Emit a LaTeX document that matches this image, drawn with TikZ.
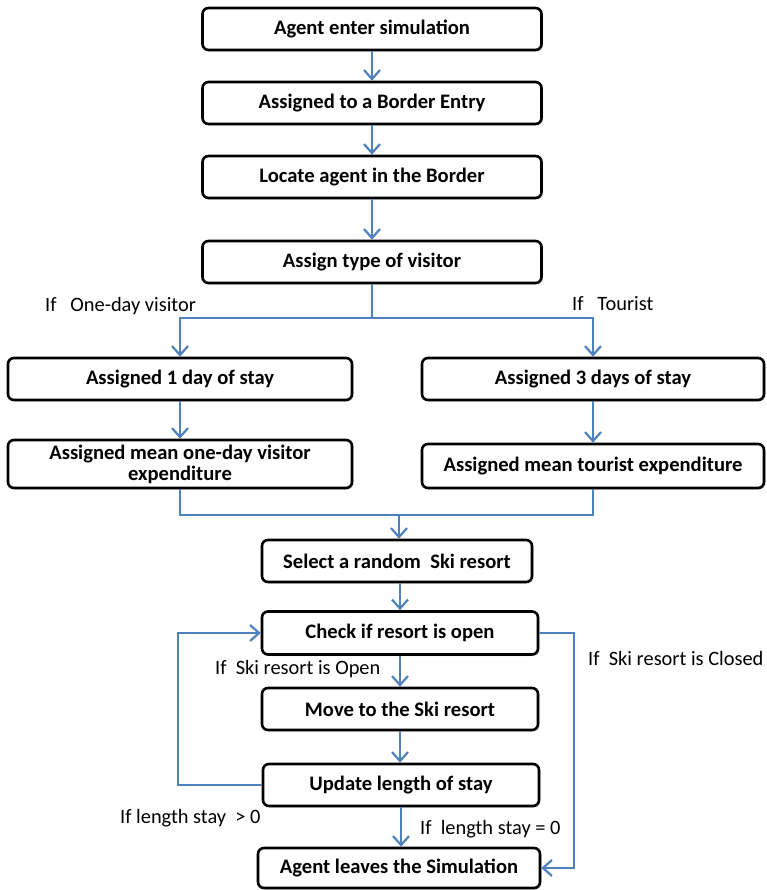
\documentclass[tikz,border=0pt]{standalone}
\usepackage{fontspec}
\setmainfont{Carlito}
\usetikzlibrary{arrows.meta,shadows}
\definecolor{flowblue}{RGB}{79,129,189}
\begin{document}
\begin{tikzpicture}[x=1pt,y=-1pt,
  box/.style={draw=black,line width=2.6pt,rounded corners=6pt,fill=white,
    align=center,inner sep=2pt,font=\fontsize{20.6}{21}\selectfont\bfseries,
    drop shadow={opacity=0.3,shadow xshift=1.5pt,shadow yshift=-1.5pt}},
  conn/.style={draw=flowblue,line width=1.7pt},
  arr/.style={conn,-{Straight Barb[length=9pt,width=16pt,line width=2.2pt]}},
  lbl/.style={anchor=west,inner sep=0pt,font=\fontsize{20.4}{21}\selectfont}]
\useasboundingbox (0,0) rectangle (767,890);
\node[box,minimum width=339pt,minimum height=42pt] (b1) at (372,29) {Agent enter simulation};
\node[box,minimum width=339pt,minimum height=42pt] (b2) at (372,103) {Assigned to a Border Entry};
\node[box,minimum width=339pt,minimum height=42pt] (b3) at (372,177) {Locate agent in the Border};
\node[box,minimum width=339pt,minimum height=42pt] (b4) at (372,262) {Assign type of visitor};
\node[box,minimum width=344pt,minimum height=42pt] (b5) at (180,379) {Assigned 1 day of stay};
\node[box,minimum width=342pt,minimum height=42pt] (b6) at (593,379) {Assigned 3 days of stay};
\node[box,minimum width=344pt,minimum height=48pt] (b7) at (180,464) {Assigned mean one-day visitor\\expenditure};
\node[box,minimum width=342pt,minimum height=44pt] (b8) at (593,466) {Assigned mean tourist expenditure};
\node[box,minimum width=270pt,minimum height=42pt] (b9) at (397,561) {Select a random\ \ Ski resort};
\node[box,minimum width=276pt,minimum height=43pt] (b10) at (400,633) {Check if resort is open};
\node[box,minimum width=276pt,minimum height=42pt] (b11) at (400,709) {Move to the Ski resort};
\node[box,minimum width=276pt,minimum height=42pt] (b12) at (401,785) {Update length of stay};
\node[box,minimum width=282pt,minimum height=40pt] (b13) at (399,868) {Agent leaves the Simulation};
% straight arrows
\draw[arr] (b1.south) -- (b2.north);
\draw[arr] (b2.south) -- (b3.north);
\draw[arr] (b3.south) -- (b4.north);
% branch
\coordinate (split) at (372,318);
\draw[conn] (b4.south) -- (split);
\draw[arr] (split) -| (b5.north);
\draw[arr] (split) -| (b6.north);
\draw[arr] (b5.south) -- (b7.north);
\draw[arr] (b6.south) -- (b8.north);
% merge
\coordinate (merge) at (399,515);
\draw[conn] (b7.south) |- (merge);
\draw[conn] (b8.south) |- (merge);
\draw[arr] (merge) -- (merge |- b9.north);
\draw[arr] (b9.south -| b10.north) -- (b10.north);
\draw[arr] (b10.south) -- (b11.north);
\draw[arr] (b11.south) -- (b11.south |- b12.north);
\draw[arr] (b12.south) -- (b12.south |- b13.north);
% loop back
\coordinate (lc) at (178,785);
\draw[arr] (b12.west) -- (lc) |- (b10.west);
% closed
\coordinate (rc) at (574,633);
\draw[arr] (b10.east) -- (rc) |- (b13.east);
% labels
\node[lbl] (l1) at (45,306) {If\ \ \ One-day visitor};
\node[lbl] (l2) at (572,304) {If\ \ \ Tourist};
\node[lbl] (l3) at (215,669) {If\ \ Ski resort is Open};
\node[lbl] (l4) at (588,658) {If\ \ Ski resort is Closed};
\node[lbl] (l5) at (120,818) {If length stay\ \ > 0};
\node[lbl] (l6) at (420,829) {If\ \ length stay = 0};
\end{tikzpicture}
\end{document}
